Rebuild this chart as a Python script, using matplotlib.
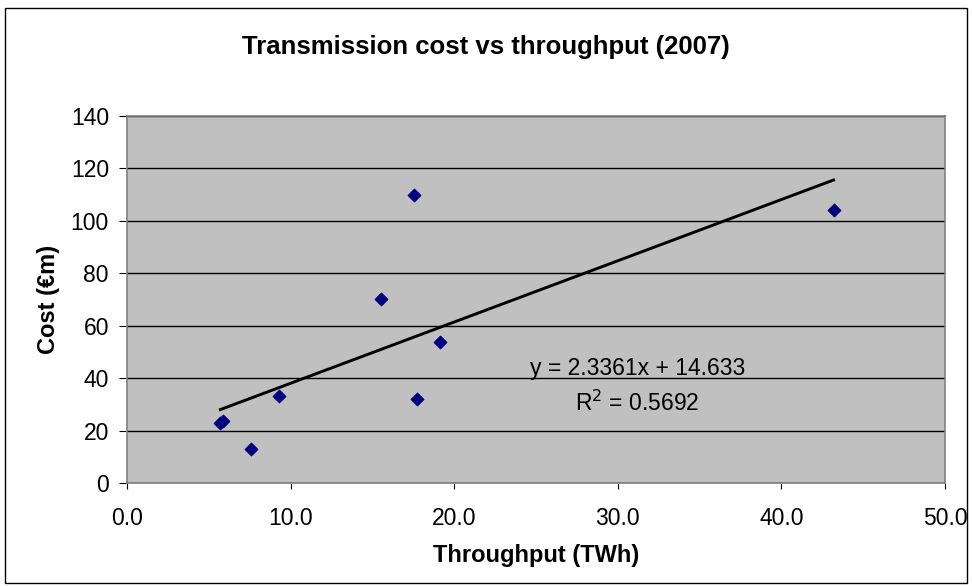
import numpy as np
import matplotlib
matplotlib.use("Agg")
import matplotlib.pyplot as plt
from matplotlib.patches import Rectangle

# data
throughput = [5.71, 5.85, 7.58, 9.29, 15.54, 17.55, 17.73, 19.13, 43.19]
cost = [22.7, 23.5, 13.0, 33.0, 70.3, 110.0, 32.2, 53.9, 104.3]
x_ticks = [0, 10, 20, 30, 40, 50]
y_ticks = [0, 20, 40, 60, 80, 100, 120, 140]
eq_text = "y = 2.3361x + 14.633"
r2_text = "R$^2$ = 0.5692"

plt.rcParams["font.family"] = ["Liberation Sans", "DejaVu Sans"]

fig = plt.figure(figsize=(9.72, 5.86), dpi=100)
fig.patches.append(Rectangle((5 / 972, 3 / 586), 962 / 972, 575 / 586,
                             transform=fig.transFigure, fill=False,
                             edgecolor="black", linewidth=1))

ax = fig.add_axes([127 / 972, (586 - 483) / 586, 818 / 972, 367 / 586])
ax.set_facecolor("#c0c0c0")
for s in ax.spines.values():
    s.set_color("#808080")
    s.set_linewidth(1.2)

ax.set_xlim(0, 50)
ax.set_ylim(0, 140)
ax.set_xticks(x_ticks)
ax.set_xticklabels([f"{v:.1f}" for v in x_ticks])
ax.set_yticks(y_ticks)
ax.tick_params(labelsize=16.5, direction="out", color="black")
ax.tick_params(axis="x", length=4.5, pad=13)
ax.tick_params(axis="y", length=6, pad=7)
ax.grid(axis="y", color="black", linewidth=1)
ax.set_axisbelow(True)

ax.scatter(throughput, cost, marker="D", s=40, color="#000080", zorder=3)

# linear trendline
k, b = np.polyfit(throughput, cost, 1)
xs = np.array([min(throughput), max(throughput)])
ax.plot(xs, k * xs + b, color="black", linewidth=2.1, zorder=2)

ax.text(31.2, 43.5, eq_text, fontsize=16.5, ha="center", va="center")
ax.text(31.2, 30.5, r2_text, fontsize=16.5, ha="center", va="center")

fig.text(0.5, 1 - 47 / 586, "Transmission cost vs throughput (2007)",
         fontsize=18.5, fontweight="bold", ha="center", va="center")
ax.set_xlabel("Throughput (TWh)", fontsize=17, fontweight="bold")
ax.set_ylabel("Cost (€m)", fontsize=17, fontweight="bold")
ax.xaxis.set_label_coords(0.5, -0.165)
ax.yaxis.set_label_coords(-0.082, 0.5)

fig.savefig("out.png", dpi=100)
